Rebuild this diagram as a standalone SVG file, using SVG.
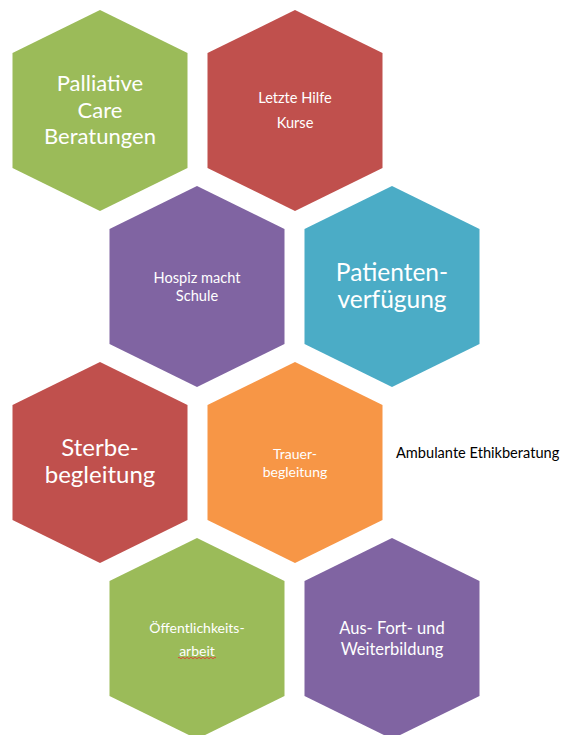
<svg xmlns="http://www.w3.org/2000/svg" width="562" height="735" viewBox="0 0 562 735">
  <style>
    .t { font-family: Lato, "Open Sans", "Liberation Sans", sans-serif; fill: #ffffff; text-anchor: middle; }
    .green { fill: #9BBB59; }
    .red { fill: #C0504D; }
    .purple { fill: #8064A2; }
    .teal { fill: #4BACC6; }
    .orange { fill: #F79646; }
    .note { font-family: Lato, "Open Sans", "Liberation Sans", sans-serif; fill: #000000; font-size: 14.6px; }
  </style>
  <defs>
    <!-- pointy-top hexagon, origin at the top vertex -->
    <polygon id="hex" points="0,0 87.5,43 87.5,158 0,201 -87.5,158 -87.5,43"/>
  </defs>
  <rect width="562" height="735" fill="#ffffff"/>

  <g id="palliative-care">
    <use href="#hex" class="green" transform="translate(100,10)"/>
    <text class="t" font-size="22" x="100" y="91">Palliative</text>
    <text class="t" font-size="22" x="100" y="118">Care</text>
    <text class="t" font-size="22" x="100" y="144">Beratungen</text>
  </g>

  <g id="letzte-hilfe">
    <use href="#hex" class="red" transform="translate(295,10)"/>
    <text class="t" font-size="14.6" x="295" y="103">Letzte Hilfe</text>
    <text class="t" font-size="14.6" x="295" y="128">Kurse</text>
  </g>

  <g id="hospiz-schule">
    <use href="#hex" class="purple" transform="translate(197,186)"/>
    <text class="t" font-size="14.6" x="197" y="283">Hospiz macht</text>
    <text class="t" font-size="14.6" x="197" y="301">Schule</text>
  </g>

  <g id="patientenverfuegung">
    <use href="#hex" class="teal" transform="translate(392,186)"/>
    <text class="t" font-size="24.5" x="392" y="281">Patienten-</text>
    <text class="t" font-size="24.5" x="392" y="308">verfügung</text>
  </g>

  <g id="sterbebegleitung">
    <use href="#hex" class="red" transform="translate(100,362)"/>
    <text class="t" font-size="24" x="100" y="456">Sterbe-</text>
    <text class="t" font-size="24" x="100" y="483">begleitung</text>
  </g>

  <g id="trauerbegleitung">
    <use href="#hex" class="orange" transform="translate(295,362)"/>
    <text class="t" font-size="14" x="295" y="459">Trauer-</text>
    <text class="t" font-size="14" x="295" y="477">begleitung</text>
  </g>

  <g id="ethikberatung">
    <text class="note" x="396" y="458">Ambulante Ethikberatung</text>
  </g>

  <g id="oeffentlichkeitsarbeit">
    <use href="#hex" class="green" transform="translate(197,538)"/>
    <text class="t" font-size="14" x="197" y="633">Öffentlichkeits-</text>
    <text class="t" font-size="14" x="197" y="656">arbeit</text>
    <!-- spell-check squiggle -->
    <path d="M178,658 q1,-1.5 2,0 t2,0 t2,0 t2,0 t2,0 t2,0 t2,0 t2,0 t2,0 t2,0 t2,0 t2,0 t2,0 t2,0 t2,0 t2,0 t2,0 t2,0 t2,0" fill="none" stroke="#E0403A" stroke-width="0.9"/>
  </g>

  <g id="aus-fort-weiterbildung">
    <use href="#hex" class="purple" transform="translate(392,538)"/>
    <text class="t" font-size="16.5" x="392" y="634">Aus- Fort- und</text>
    <text class="t" font-size="16.5" x="392" y="655">Weiterbildung</text>
  </g>
</svg>
